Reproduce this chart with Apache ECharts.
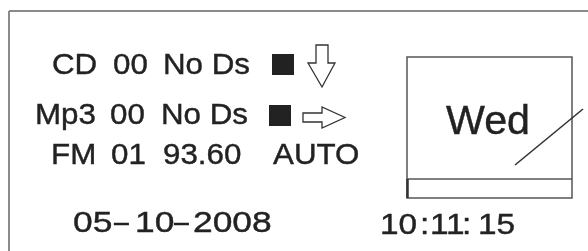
<!DOCTYPE html>
<html>
<head>
<meta charset="utf-8">
<script src="https://cdn.jsdelivr.net/npm/echarts@6/dist/echarts.min.js"></script>
<style>
  html, body { margin: 0; padding: 0; background: #fff; }
  #main { width: 588px; height: 251px; }
</style>
</head>
<body>
<div id="main"></div>
<script>
// panel values
const sources = ['CD', 'Mp3', 'FM']
const tracks = ['00', '00', '01']
const infos = ['No Ds', 'No Ds', '93.60']
const modes = ['', '', 'AUTO']
const dateParts = ['05', '10', '2008']
const timeParts = ['10', '11', '15']
const dayName = 'Wed'

const chart = echarts.init(document.getElementById('main'), null, { renderer: 'canvas' })

const ink = '#222'
const lineCol = '#666'
const FONT = 'Liberation Sans, Arial, sans-serif'

function txt(s, x, y, size, sx) {
  return {
    type: 'text', x: x, y: y, scaleX: sx || 1, originX: 0, originY: 0,
    style: {
      text: s, fill: ink, stroke: ink, lineWidth: 0.4,
      font: size + 'px ' + FONT,
      textAlign: 'left', textVerticalAlign: 'middle'
    }
  }
}
function line(x1, y1, x2, y2, w, c) {
  return { type: 'line', shape: { x1, y1, x2, y2 }, style: { stroke: c || lineCol, lineWidth: w || 1.5 } }
}

const els = []
// outer frame (top + left only)
els.push(line(9, 11, 588, 11, 2, '#8a8a8a'))
els.push(line(9, 11, 9, 251, 2, '#8a8a8a'))

// rows
const rowY = [66, 116, 156]
const colSrc = [52, 35, 51]
const colTrk = [113, 110, 111]
const colInfo = [163, 161, 163]
rowY.forEach((y, i) => {
  els.push(txt(sources[i], colSrc[i], y, 29, 1.08))
  els.push(txt(tracks[i], colTrk[i], y, 29, 1.08))
  els.push(txt(infos[i], colInfo[i], y, 29, 1.08))
  if (modes[i]) els.push(txt(modes[i], 273, y, 29, 1.08))
})

// black squares
els.push({ type: 'rect', shape: { x: 272, y: 54, width: 22, height: 21 }, style: { fill: '#222' } })
els.push({ type: 'rect', shape: { x: 269, y: 105, width: 22, height: 21 }, style: { fill: '#222' } })

// down arrow
els.push({
  type: 'polygon',
  shape: { points: [[316, 45], [328, 45], [328, 63], [335, 63], [322, 87], [308, 63], [316, 63]] },
  style: { fill: '#fff', stroke: '#333', lineWidth: 1.3 }
})
// right arrow
els.push({
  type: 'polygon',
  shape: { points: [[303, 113], [322, 113], [322, 107], [345, 117.5], [322, 128], [322, 122], [303, 122]] },
  style: { fill: '#fff', stroke: '#333', lineWidth: 1.3 }
})

// date
const dateY = 224
els.push(txt(dateParts[0], 73, dateY, 29, 1.22))
els.push(txt('\u2013', 114, dateY, 29, 0.92))
els.push(txt(dateParts[1], 135, dateY, 29, 1.22))
els.push(txt('\u2013', 174, dateY, 29, 0.92))
els.push(txt(dateParts[2], 193, dateY, 29, 1.22))

// time
const timeY = 226
els.push(txt(timeParts[0], 380, timeY, 29, 1.15))
els.push(txt(':', 420, timeY, 29, 1.15))
els.push(txt(timeParts[1], 430, timeY, 29, 1.15))
els.push(txt(':', 462, timeY, 29, 1.15))
els.push(txt(timeParts[2], 478, timeY, 29, 1.15))

// day box
els.push({ type: 'rect', shape: { x: 407, y: 57, width: 165, height: 141 }, style: { fill: 'none', stroke: '#555', lineWidth: 1.5 } })
els.push(line(407, 179, 572, 179, 1.5, '#555'))
els.push(line(407.5, 179, 407.5, 198, 2.5, '#333'))
els.push(txt(dayName, 446, 123, 40, 1.03))
els.push(line(515, 165, 583, 109, 1.6, '#333'))

chart.setOption({
  backgroundColor: '#fff',
  animation: false,
  graphic: { elements: els }
})
</script>
</body>
</html>
